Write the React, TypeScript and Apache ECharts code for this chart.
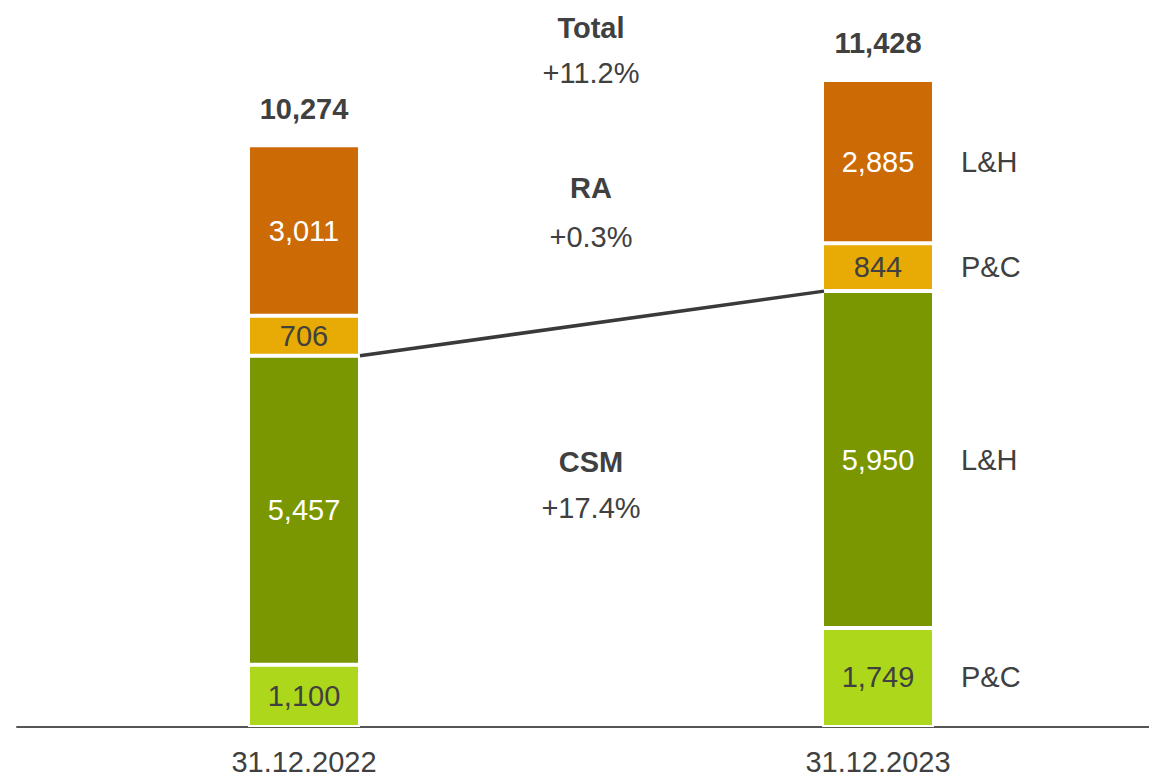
import React, { useEffect, useRef } from "react";
import * as echarts from "echarts";

const categories = ["31.12.2022", "31.12.2023"];
const csmPC = [1100, 1749];
const csmLH = [5457, 5950];
const raPC = [706, 844];
const raLH = [3011, 2885];
const totals = [10274, 11428];
const sideLabels = ["P&C", "L&H", "P&C", "L&H"];
const changeTitles = ["Total", "RA", "CSM"];
const changeValues = ["+11.2%", "+0.3%", "+17.4%"];

const FONT = '"Liberation Sans", Arial, sans-serif';
const DARK = "#404040";
const FS = 29;
const fmt = (v: number) => v.toLocaleString("en-US");

export default function App() {
  const ref = useRef<HTMLDivElement>(null);
  useEffect(() => {
    if (!ref.current) return;
    const chart = echarts.init(ref.current, undefined, { renderer: "svg" });

    const segs = [
      { name: "CSM P&C", data: csmPC, color: "#ADD71A", text: DARK },
      { name: "CSM L&H", data: csmLH, color: "#7A9600", text: "#ffffff" },
      { name: "RA P&C", data: raPC, color: "#E8AA04", text: DARK },
      { name: "RA L&H", data: raLH, color: "#CC6A06", text: "#ffffff" },
    ];

    const barSeries = segs.map((s) => ({
      type: "bar",
      name: s.name,
      stack: "total",
      barWidth: 112,
      data: s.data,
      itemStyle: { color: s.color, borderColor: "#ffffff", borderWidth: 2 },
      label: {
        show: true,
        position: "inside",
        color: s.text,
        fontSize: FS,
        fontFamily: FONT,
        formatter: (p: any) => fmt(p.value),
      },
    }));

    const segs2023 = [csmPC[1], csmLH[1], raPC[1], raLH[1]];
    let acc = 0;
    const sideData = segs2023.map((v, i) => {
      const mid = acc + v / 2;
      acc += v;
      return { value: [1, mid], name: sideLabels[i] };
    });

    const csmTop = [csmPC[0] + csmLH[0], csmPC[1] + csmLH[1]];

    const graphic: any[] = [];
    const yPos = [
      [28, 73],
      [188, 237],
      [462, 508],
    ];
    changeTitles.forEach((t, i) => {
      graphic.push({
        type: "text",
        x: 591,
        y: yPos[i][0],
        style: {
          text: t,
          font: `bold ${FS}px ${FONT}`,
          fill: DARK,
          textAlign: "center",
          textVerticalAlign: "middle",
        },
      });
      graphic.push({
        type: "text",
        x: 591,
        y: yPos[i][1],
        style: {
          text: changeValues[i],
          font: `${FS}px ${FONT}`,
          fill: DARK,
          textAlign: "center",
          textVerticalAlign: "middle",
        },
      });
    });

    chart.setOption({
      animation: false,
      backgroundColor: "#ffffff",
      grid: { left: 17, width: 1148, top: 47.6, height: 679.4, outerBoundsMode: "none", containLabel: false },
      xAxis: {
        type: "category",
        data: categories,
        axisLine: { show: true, lineStyle: { color: "#555555", width: 2 } },
        axisTick: { show: false },
        axisLabel: { color: DARK, fontSize: FS, fontFamily: FONT, margin: 20 },
      },
      yAxis: {
        type: "value",
        min: 0,
        max: 12000,
        show: false,
        splitLine: { show: false },
      },
      graphic,
      series: [
        ...barSeries,
        {
          type: "scatter",
          name: "totals",
          symbolSize: 0,
          itemStyle: { opacity: 1 },
          data: totals.map((t, i) => [i, t]),
          label: {
            show: true,
            position: "top",
            distance: 22,
            color: DARK,
            fontSize: FS,
            fontWeight: "bold",
            fontFamily: FONT,
            formatter: (p: any) => fmt(p.value[1]),
          },
          z: 5,
        },
        {
          type: "scatter",
          name: "side",
          symbolSize: 0,
          itemStyle: { opacity: 1 },
          data: sideData,
          label: {
            show: true,
            position: "right",
            distance: 83,
            color: DARK,
            fontSize: FS,
            fontFamily: FONT,
            formatter: (p: any) => p.name,
          },
        },
        {
          type: "custom",
          name: "connector",
          data: [[0, csmTop[0], 1, csmTop[1]]],
          encode: { x: [0, 2], y: [1, 3] },
          renderItem: (params: any, api: any) => {
            const a = api.coord([api.value(0), api.value(1)]);
            const b = api.coord([api.value(2), api.value(3)]);
            return {
              type: "line",
              shape: { x1: a[0] + 56, y1: a[1], x2: b[0] - 54, y2: b[1] },
              style: { stroke: "#3a3a3a", lineWidth: 3.5 },
            };
          },
          z: 10,
        },
      ],
    });
    return () => chart.dispose();
  }, []);

  return (
    <div
      ref={ref}
      style={{ position: "fixed", left: 0, top: 0, width: 1149, height: 772, background: "#fff" }}
    />
  );
}
